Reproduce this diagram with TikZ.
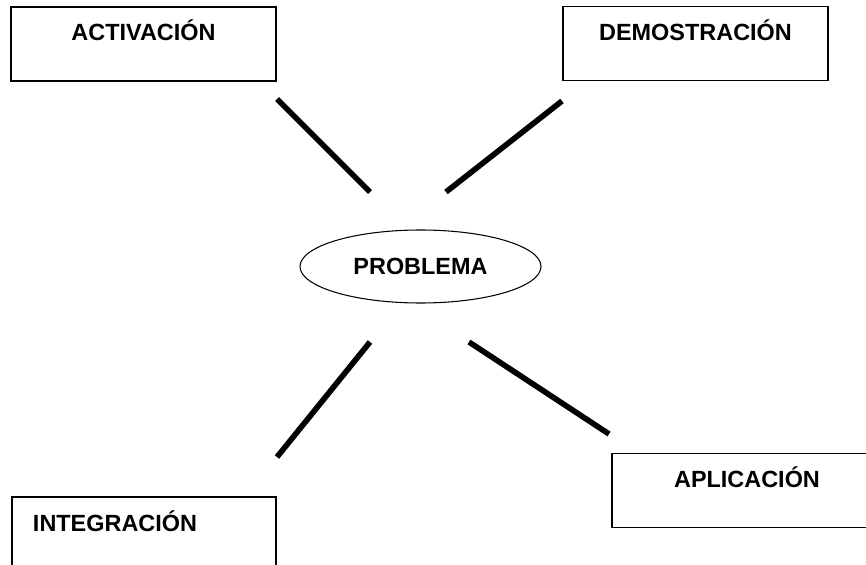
\documentclass[tikz,border=0pt]{standalone}
\usepackage{fontspec}
\setmainfont{Liberation Sans}
\usepackage{tikz}
\usetikzlibrary{shapes.geometric}

\begin{document}
\begin{tikzpicture}[x=0.03cm, y=-0.03cm,
        every node/.style={font=\fontsize{20}{24}\selectfont\bfseries},
        stagebox/.style={draw, line width=1pt, rectangle, inner sep=0pt,
            minimum width=7.95cm, text height=1.02cm, text depth=1.2cm},
        link/.style={line width=4.8pt}]
        \useasboundingbox (0,0) rectangle (866,565);
        \clip (0,0) rectangle (866,565);

        % Draw the central ellipse
        \node[ellipse, draw, line width=0.9pt, inner sep=0pt,
            minimum width=7.23cm, minimum height=2.19cm] (problema) at (420.5,266.5) {PROBLEMA};

        % Draw the four boxes around it
        \node[stagebox] (activacion) at (143.5,44) {ACTIVACIÓN};
        \node[stagebox] (demostracion) at (695.5,43.5) {DEMOSTRACIÓN};
        \node[stagebox, minimum width=8.1cm] (aplicacion) at (747,490.5) {APLICACIÓN};
        \node[stagebox, text width=6.66cm, inner xsep=0.63cm, align=left,
            minimum width=7.92cm] (integracion) at (144,534) {INTEGRACIÓN};

        % End points of the thick lines
        \coordinate (l1a) at (277,99);
        \coordinate (l1b) at (370,192);
        \coordinate (l2a) at (562,101);
        \coordinate (l2b) at (446,192);
        \coordinate (l3a) at (370,342);
        \coordinate (l3b) at (277,457);
        \coordinate (l4a) at (469,342);
        \coordinate (l4b) at (609,434);

        % Draw the thick lines
        \foreach \i in {1,...,4} {
            \draw[link] (l\i a) -- (l\i b);
        }
    \end{tikzpicture}
\end{document}
